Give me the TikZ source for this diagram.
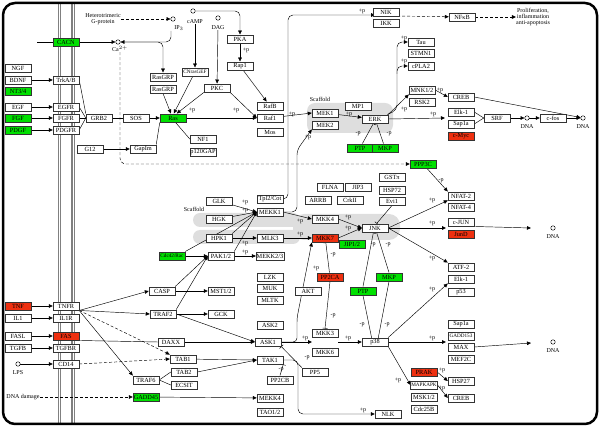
\documentclass[tikz,border=0pt]{standalone}
\usepackage{fontspec}
\setmainfont{Liberation Serif}
\usetikzlibrary{arrows.meta}
\definecolor{kgreen}{RGB}{0,224,0}
\definecolor{kred}{RGB}{238,48,16}
\definecolor{band}{RGB}{222,222,222}
\pgfdeclarelayer{bands}
\pgfdeclarelayer{edges}
\pgfsetlayers{bands,edges,main}
\begin{document}
\begin{tikzpicture}[x=1pt,y=-1pt,
 every node/.style={font=\fontsize{6.3}{7}\selectfont},
 gb/.style={draw=black!80, line width=0.45pt, fill=white, minimum width=26pt, minimum height=8.5pt, inner sep=0.6pt},
 gg/.style={gb, fill=kgreen},
 gr/.style={gb, fill=kred},
 ar/.style={draw, line width=0.45pt, -{Triangle[length=4pt,width=3.6pt]}},
 ln/.style={draw, line width=0.45pt},
 inh/.style={draw, line width=0.45pt, -{Bar[width=5pt]}},
 dsh/.style={dash pattern=on 3pt off 2pt},
 lb/.style={inner sep=0pt, font=\fontsize{6}{6}\selectfont},
 cir/.style={circle, draw, line width=0.45pt, minimum size=4.5pt, inner sep=0pt, fill=white},
 sm/.style={font=\fontsize{5.2}{6}\selectfont}
]
\useasboundingbox (0,0) rectangle (600,427);
\begin{pgfonlayer}{bands}
\fill[band, rounded corners=7] (193,213) rectangle (300,227);
\fill[band, rounded corners=7] (193,230) rectangle (300,244);
\fill[band, rounded corners=11] (293,214) rectangle (400,240);
\fill[band, rounded corners=8] (307,103) rectangle (393,133);
\foreach \x in {58.5,60.8,72,74.3} \draw[black!50, line width=1.1pt] (\x,4) -- (\x,423);
\end{pgfonlayer}
% frame
\draw[line width=2.5pt, rounded corners=12pt] (3,3) rectangle (597,424);

% ---------- nodes ----------
\node[gb] (NGF) at (18,68) {NGF};
\node[gb] (BDNF) at (18,80) {BDNF};
\node[gg] (NT34) at (18,91) {NT3/4};
\node[gb] (EGF) at (18,107) {EGF};
\node[gg] (FGF) at (18,118) {FGF};
\node[gg] (PDGF) at (18,130) {PDGF};
\node[gr] (TNF) at (18,306) {TNF};
\node[gb] (IL1) at (18,318) {IL1};
\node[gb] (FASL) at (18,336) {FASL};
\node[gb] (TGFB) at (18,348) {TGFB};
\node[cir] (LPS) at (18,364) {};
\node[lb] (LPSl) at (18,373) {LPS};
\node[lb] (DNAd) at (23,397) {DNA damage};

\node[gg] (CACN) at (66,42) {CACN};
\node[gb] (TrkAB) at (66,80) {TrkA/B};
\node[gb] (EGFR) at (66,107) {EGFR};
\node[gb] (FGFR) at (66,118) {FGFR};
\node[gb] (PDGFR) at (66,130) {PDGFR};
\node[gb] (TNFR) at (66,306) {TNFR};
\node[gb] (IL1R) at (66,318) {IL1R};
\node[gr] (FAS) at (66,336) {FAS};
\node[gb] (TGFBR) at (66,348) {TGFBR};
\node[gb] (CD14) at (66,364) {CD14};

\node[cir] (Ca) at (118,42) {};
\node[lb] (Cal) at (120,49) {Ca$^{2+}$};
\node[lb, align=center] (het) at (103,19) {Heterotrimeric\\G-protein};
\node[cir] (IP3) at (173,19) {};
\node[lb] (IP3l) at (179,28) {IP$_3$};
\node[cir] (cAMP) at (193,11) {};
\node[lb] (cAMPl) at (195,22) {cAMP};
\node[cir] (DAG) at (218,18) {};
\node[lb] (DAGl) at (218,28) {DAG};

\node[gb] (GRB2) at (99,118) {GRB2};
\node[gb] (SOS) at (136,118) {SOS};
\node[gg] (Ras) at (173,118) {Ras};
\node[gb] (RasGRP1) at (163,77) {RasGRP};
\node[gb] (RasGRP2) at (163,89) {RasGRP};
\node[gb, sm] (CNras) at (195,72) {CNrasGEF};
\node[gb] (PKC) at (217,88) {PKC};
\node[gb] (PKA) at (240,39) {PKA};
\node[gb] (Rap1) at (240,66) {Rap1};
\node[gb] (RafB) at (270,106) {RafB};
\node[gb] (Raf1) at (270,118) {Raf1};
\node[gb] (Mos) at (270,132) {Mos};
\node[gb] (NF1) at (203,139) {NF1};
\node[gb] (p120) at (203,152) {p120GAP};
\node[gb] (GapIm) at (143,149) {GapIm};
\node[gb] (G12) at (90,149) {G12};

\node[gb] (NIK) at (386,12) {NIK};
\node[gb] (IKK) at (386,23) {IKK};
\node[gb] (NFkB) at (462,17) {NFκB};
\node[lb, align=center] (prol) at (533,17) {Proliferation,\\inflammation\\anti-apoptosis};

\node[lb] (scaf1) at (320,99) {Scaffold};
\node[gb] (MEK1) at (325,113) {MEK1};
\node[gb] (MEK2) at (325,125) {MEK2};
\node[gb] (MP1) at (358,106) {MP1};
\node[gb] (ERK) at (375,119) {ERK};
\node[gg] (PTP1) at (360,148) {PTP};
\node[gg] (MKP1) at (385,148) {MKP};
\node[gb] (Tau) at (421,42) {Tau};
\node[gb] (STMN1) at (421,53) {STMN1};
\node[gb] (cPLA2) at (421,66) {cPLA2};
\node[gb] (MNK) at (422,90) {MNK1/2};
\node[gb] (RSK2) at (422,102) {RSK2};
\node[gb] (CREB1) at (461,97) {CREB};
\node[gb] (Elk1a) at (461,112) {Elk-1};
\node[gb] (Sap1a1) at (461,124) {Sap1a};
\node[gr] (cMyc) at (461,136) {c-Myc};
\node[gb] (SRF) at (497,118) {SRF};
\node[cir] (DNA1) at (527,118) {};
\node[lb] (DNA1l) at (527,127) {DNA};
\node[gb] (cfos) at (553,118) {c-fos};
\node[cir] (DNA2) at (583,118) {};
\node[lb] (DNA2l) at (583,127) {DNA};
\node[gg] (PPP3C) at (423,164) {PPP3C};

\node[gb] (Tpl2) at (270,199) {Tpl2/Cot};
\node[gb] (MEKK1) at (270,212) {MEKK1};
\node[gb] (GLK) at (219,201) {GLK};
\node[lb] (scaf2) at (194,209) {Scaffold};
\node[gb] (HGK) at (219,219) {HGK};
\node[gb] (HPK1) at (219,238) {HPK1};
\node[gb] (MLK3) at (270,238) {MLK3};
\node[gb] (PAK) at (221,256) {PAK1/2};
\node[gb] (MEKK23) at (270,256) {MEKK2/3};
\node[gg, sm] (Cdc42) at (172,256) {Cdc42/Rac};
\node[gb] (LZK) at (270,277) {LZK};
\node[gb] (MUK) at (270,288) {MUK};
\node[gb] (MLTK) at (270,300) {MLTK};

\node[gb] (FLNA) at (330,187) {FLNA};
\node[gb] (JIP3) at (358,187) {JIP3};
\node[gb] (ARRB) at (318,200) {ARRB};
\node[gb] (CrkII) at (350,200) {CrkII};
\node[gb] (GSTp) at (392,177) {GSTπ};
\node[gb] (HSP72) at (392,190) {HSP72};
\node[gb] (Evi1) at (392,201) {Evi1};
\node[gb] (MKK4) at (325,219) {MKK4};
\node[gr] (MKK7) at (325,238) {MKK7};
\node[gg] (JIP12) at (352,244) {JIP1/2};
\node[gb] (JNK) at (375,228) {JNK};
\node[gr] (PP2CA) at (330,277) {PP2CA};
\node[gg] (MKP2) at (389,277) {MKP};
\node[gg] (PTP2) at (363,291) {PTP};
\node[gb] (AKT) at (308,291) {AKT};

\node[gb] (NFAT2) at (461,196) {NFAT-2};
\node[gb] (NFAT4) at (461,207) {NFAT-4};
\node[gb] (cJUN) at (461,222) {c-JUN};
\node[gr] (JunD) at (461,234) {JunD};
\node[cir] (DNA3) at (553,228) {};
\node[lb] (DNA3l) at (553,237) {DNA};
\node[gb] (ATF2) at (461,267) {ATF-2};
\node[gb] (Elk1b) at (461,279) {Elk-1};
\node[gb] (p53) at (461,292) {p53};
\node[gb] (Sap1a2) at (461,324) {Sap1a};
\node[gb, sm] (GADD153) at (461,336) {GADD153};
\node[gb] (MAX) at (461,347) {MAX};
\node[gb] (MEF2C) at (461,359) {MEF2C};
\node[gb] (HSP27) at (461,381) {HSP27};
\node[gb] (CREB2) at (461,398) {CREB};
\node[cir] (DNA4) at (553,342) {};
\node[lb] (DNA4l) at (553,351) {DNA};

\node[gb] (CASP) at (162,291) {CASP};
\node[gb] (MST) at (221,291) {MST1/2};
\node[gb] (TRAF2) at (163,314) {TRAF2};
\node[gb] (GCK) at (221,314) {GCK};
\node[gb] (DAXX) at (171,342) {DAXX};
\node[gb] (TAB1) at (183,359) {TAB1};
\node[gb] (TAB2) at (184,372) {TAB2};
\node[gb] (TRAF6) at (146,380) {TRAF6};
\node[gb] (ECSIT) at (184,385) {ECSIT};
\node[gg] (GADD45) at (146,397) {GADD45};
\node[gb] (ASK2) at (270,325) {ASK2};
\node[gb] (ASK1) at (268,342) {ASK1};
\node[gb] (TAK1) at (270,360) {TAK1};
\node[gb] (PP2CB) at (280,380) {PP2CB};
\node[gb] (MEKK4) at (270,398) {MEKK4};
\node[gb] (TAO) at (270,412) {TAO1/2};

\node[gb] (MKK3) at (325,333) {MKK3};
\node[gb] (MKK6) at (325,352) {MKK6};
\node[gb] (PP5) at (315,372) {PP5};
\node[gb] (p38) at (375,342) {p38};
\node[gr] (PRAK) at (424,372) {PRAK};
\node[gb, sm] (MAPKAPK) at (424,385) {MAPKAPK};
\node[gb] (MSK) at (424,397) {MSK1/2};
\node[gb] (Cdc25B) at (424,409) {Cdc25B};
\node[gb] (NLK) at (388,414) {NLK};

% coordinates
\coordinate (cacnin) at (37,42);
\coordinate (ip3b) at (171,31);
\coordinate (nikin) at (375,15);
\coordinate (nfkbin) at (397,16);
\coordinate (dna3in) at (531,228);
\coordinate (dna4in) at (531,343);

% labels
\node[lb] at (246,50) {+p};
\node[lb] at (192,110) {+p};
\node[lb] at (236,110) {+p};
\node[lb] at (292,114) {+p};
\node[lb] at (362,11) {+p};
\node[lb] at (308,137) {+p};
\node[lb] at (349,114) {+p};
\node[lb] at (358,134) {-p};
\node[lb] at (389,134) {-p};
\node[lb] at (404,38) {+p};
\node[lb] at (404,61) {+p};
\node[lb] at (404,109) {+p};
\node[lb] at (440,90) {+p};
\node[lb] at (433,114) {+p};
\node[lb] at (245,202) {+p};
\node[lb] at (245,210) {+p};
\node[lb] at (245,243) {+p};
\node[lb] at (245,252) {+p};
\node[lb] at (300,221) {+p};
\node[lb] at (300,234) {+p};
\node[lb] at (348,217) {+p};
\node[lb] at (348,228) {+p};
\node[lb] at (333,255) {-p};
\node[lb] at (373,245) {-p};
\node[lb] at (388,245) {-p};
\node[lb] at (432,200) {+p};
\node[lb] at (441,181) {-p};
\node[lb] at (432,223) {+p};
\node[lb] at (432,258) {+p};
\node[lb] at (316,268) {+p};
\node[lb] at (333,316) {-p};
\node[lb] at (362,325) {-p};
\node[lb] at (387,325) {-p};
\node[lb] at (305,338) {+p};
\node[lb] at (348,338) {+p};
\node[lb] at (307,358) {-p};
\node[lb] at (432,289) {+p};
\node[lb] at (432,338) {+p};
\node[lb] at (398,380) {+p};
\node[lb] at (442,370) {+p};
\node[lb] at (442,388) {+p};
\node[lb] at (363,410) {+p};
\node[lb] at (281,370) {-p};

\begin{pgfonlayer}{edges}
% ---------- edges: top ----------
\draw[ln] (cacnin) -- (CACN);
\draw[ar] (CACN) -- (Ca);
\draw[ar] (BDNF) -- (TrkAB);
\draw[ar] (EGF) -- (EGFR);
\draw[ar] (FGF) -- (FGFR);
\draw[ar] (PDGF) -- (PDGFR);
\draw[ln] (TrkAB.east) -- (GRB2.north west);
\draw[ln] (EGFR.east) -- (GRB2.west);
\draw[ln] (FGFR) -- (GRB2);
\draw[ln] (PDGFR.east) -- (GRB2.west);
\draw[ln] (GRB2) -- (SOS);
\draw[ar] (SOS) -- (Ras);
\draw[ar, dsh] (het.east) -- (IP3);
\draw[ar, rounded corners=5] (ip3b) |- (Ca);
\draw[ar, rounded corners=5] (Ca) -| (RasGRP1);
\draw[ar, rounded corners=5] (cAMP) -| (PKA);
\draw[ar] (cAMPl) -- (CNras);
\draw[ar] (DAGl) -- (PKC);
\draw[ar] (PKA) -- (Rap1);
\draw[ar] (Rap1) -- (RafB);
\draw[ar] (RasGRP2.south) -- (Ras.115);
\draw[ar] (CNras) -- (Ras.80);
\draw[ar] (PKC.south west) -- (Ras.50);
\draw[ar] (PKC.south east) -- (Raf1.west);
\draw[ar] (Ras) -- (Raf1);
\draw[ln] (Ras.south west) -- (GapIm.north east);
\draw[ln] (Ras.-60) -- (NF1.west);
\draw[ar] (G12) -- (GapIm);
\draw[ar] (Raf1) -- (MEK1.west);
\draw[ar, dsh, rounded corners=6] (Cal) |- (PPP3C);
\draw[ar, rounded corners=5] (Tpl2.east) -| (288,15) -- (nikin);
\draw[ar, rounded corners=5] (MEKK1.east) -| (297,150) -- (MEK2.south west);
\draw[ar, dsh] (nfkbin) -- (NFkB);
\draw[ar, dsh] (NFkB) -- (prol);
\draw[ar] (MEK1) -- (ERK);
\draw[inh] (PTP1) -- (ERK.-110);
\draw[inh] (MKP1) -- (ERK.-70);
\draw[ar, rounded corners=5] (ERK.20) -- (397,110) |- (Tau);
\draw[ar, rounded corners=5] (397,74) |- (cPLA2);
\draw[ar] (ERK.north east) -- (MNK.south west);
\draw[ar] (MNK.east) -- (CREB1.west);
\draw[ar] (ERK.east) -- (445,118);
\draw[ln] (Elk1a.east) -- (SRF.west);
\draw[ln] (Sap1a1.east) -- (SRF.west);
\draw[ar] (SRF) -- (DNA1);
\draw[ar] (DNA1) -- (cfos);
\draw[ar] (cfos) -- (DNA2);
\draw[ar] (CREB1.east) -- (DNA2);

% ---------- JNK ----------
\draw[ar] (GLK) -- (MEKK1.west);
\draw[ar] (HGK) -- (MEKK1.west);
\draw[ar] (HPK1.north east) -- (MEKK1.west);
\draw[ar] (PAK.north east) -- (MEKK1.west);
\draw[ln] (Cdc42.north east) -- (MEKK1.west);
\draw[ar] (HPK1) -- (MLK3);
\draw[ar] (Cdc42) -- (PAK);
\draw[ar] (PAK) -- (MEKK23);
\draw[ar] (CASP.north east) -- (PAK.west);
\draw[ar] (TRAF2.north east) -- (PAK.west);
\draw[ar] (MEKK1.east) -- (MKK4.west);
\draw[ar] (MLK3) -- (MKK7);
\draw[ar] (MKK4.east) -- (JNK.west);
\draw[ar] (MKK7.east) -- (JNK.west);
\draw[inh] (Evi1.south) -- (JNK.70);
\draw[inh] (PP2CA) -- (MKK7.-80);
\draw[inh] (PTP2.north) -- (JNK.-110);
\draw[inh] (MKP2.north) -- (JNK.-70);
\draw[ar] (JNK.east) -- (NFAT2.south west);
\draw[ar] (PPP3C) -- (NFAT2.north west);
\draw[ar] (JNK.east) -- (446,228);
\draw[ar] (JNK.east) -- (ATF2.north west);
\draw[ar] (cJUN.south east) -- (dna3in);
\draw[ar, rounded corners=4] (ASK1.east) -| (297,318) -- (MKK7.south west);

% ---------- p38 ----------
\draw[inh] (PP2CA.south) -- (MKK3.north);
\draw[inh] (PTP2.south) -- (p38.-110);
\draw[inh] (MKP2.south) -- (p38.-70);
\draw[ar] (ASK1.east) -- (312,342);
\draw[ar] (338,342) -- (p38.west);
\draw[inh] (PP5.north west) -- (ASK1.south east);
\draw[ar] (p38.north east) -- (Elk1b.south west);
\draw[ar] (p38.east) -- (446,342);
\draw[ar] (p38.south east) -- (MAPKAPK.west);
\draw[ar] (PRAK.east) -- (HSP27.west);
\draw[ar] (MAPKAPK.east) -- (CREB2.west);
\draw[ar] (MAX.east) -- (dna4in);
\draw[ar, rounded corners=5] (TAK1.east) -| (298,414) -- (NLK);
\draw[inh] (PP2CB.north) -- (TAK1.south east);

% ---------- lower left ----------
\draw[ar] (TNF) -- (TNFR);
\draw[ar] (IL1) -- (IL1R);
\draw[ar] (FASL) -- (FAS);
\draw[ar] (TGFB) -- (TGFBR);
\draw[ar] (LPS) -- (CD14);
\draw[ar] (TNFR.south east) -- (CASP.west);
\draw[ar] (TNFR.south east) -- (TRAF2.west);
\draw[ar, dsh] (TNFR.south east) -- (TAB1.north west);
\draw[ar] (TNFR.south east) -- (TRAF6.north west);
\draw[ln] (FAS.south east) -- (DAXX.west);
\draw[ar, dsh] (CD14.east) -- (TAB1.west);
\draw[ar, dsh] (DNAd) -- (GADD45);
\draw[ar] (CASP) -- (MST);
\draw[ar] (TRAF2) -- (GCK);
\draw[ar] (TRAF2.east) -- (ASK1.west);
\draw[ar] (DAXX) -- (ASK1);
\draw[ln] (TRAF6.east) -- (TAB2.west);
\draw[ln] (TRAF6.east) -- (ECSIT.west);
\draw[ar] (TAB1) -- (TAK1.west);
\draw[ar] (TAB2.east) -- (TAK1.west);
\draw[ar] (GADD45) -- (MEKK4);
\end{pgfonlayer}
\end{tikzpicture}
\end{document}
